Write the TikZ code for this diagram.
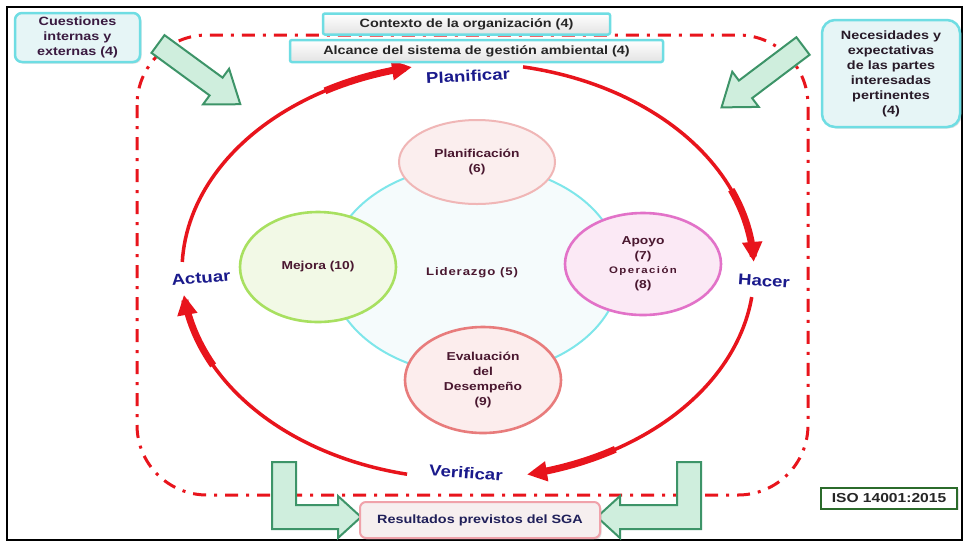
\documentclass[tikz,border=0pt]{standalone}
\usepackage{fontspec}
\setmainfont{Liberation Sans}[FakeStretch=1.2]
\usetikzlibrary{arrows.meta,shapes.geometric,shadows}

\definecolor{cycred}{HTML}{E8141C}
\definecolor{navylbl}{HTML}{1A1A8C}
\definecolor{maroontxt}{HTML}{4A1830}
\definecolor{cyanedge}{HTML}{6FDDE3}
\definecolor{cyanfill}{HTML}{E6F5F6}
\definecolor{greenedge}{HTML}{3D9468}
\definecolor{greenfill}{HTML}{CFEEDD}
\definecolor{ringcyan}{HTML}{7EE6EA}
\definecolor{ringfill}{HTML}{F5FBFC}
\definecolor{planedge}{HTML}{F0B6B6}
\definecolor{planfill}{HTML}{FBEEEE}
\definecolor{mejedge}{HTML}{A8E060}
\definecolor{mejfill}{HTML}{F2F9E6}
\definecolor{apoedge}{HTML}{E272C8}
\definecolor{apofill}{HTML}{FBE9F5}
\definecolor{evaedge}{HTML}{E87C7C}
\definecolor{evafill}{HTML}{FCEDED}
\definecolor{resedge}{HTML}{F0A2AA}
\definecolor{resfill}{HTML}{F6EFEF}
\definecolor{isoedge}{HTML}{2B6B2B}

\tikzset{
  thinarc/.style={draw=cycred, line width=3.5pt},
  thickarc/.style={draw=cycred, line width=7pt, -{Triangle[width=19pt,length=20pt]}},
  phase/.style={font=\bfseries\fontsize{15.5}{18}\selectfont, text=navylbl, inner sep=1pt},
  blockarrow/.style={draw=greenedge, line width=2pt, fill=greenfill, line join=miter},
  stage/.style={ellipse, line width=2.6pt, inner sep=0pt, align=center,
    font=\bfseries\fontsize{11.5}{15}\selectfont, text=maroontxt},
  topbox/.style={draw=cyanedge, line width=2.5pt, rounded corners=2pt,
    top color=white, bottom color=gray!22, inner sep=0pt,
    font=\bfseries\fontsize{12}{15}\selectfont, text=black!85},
  sidebox/.style={draw=cyanedge, line width=2.5pt, fill=cyanfill, inner sep=1pt,
    align=center, font=\bfseries\fontsize{12}{15}\selectfont,
    drop shadow={shadow xshift=1.5pt, shadow yshift=-1.5pt, opacity=0.25}},
}

\begin{document}
\begin{tikzpicture}[x=1pt,y=-1pt]
\useasboundingbox (0,0) rectangle (966,542);
\fill[white] (0,0) rectangle (966,542);

% outer frame
\draw[line width=2pt] (7,7) rectangle (962,540);

% scope of the management system (dash-dot boundary)
\draw[cycred, line width=3pt, rounded corners=70pt,
      dash pattern=on 13pt off 8pt on 3pt off 8pt] (137,35) rectangle (808,495);

% central ring: leadership
\node[ellipse, draw=ringcyan, line width=2pt, fill=ringfill,
      minimum width=290pt, minimum height=210pt] (ring) at (475,270) {};
\node[font=\bfseries\fontsize{11}{14}\selectfont\addfontfeatures{LetterSpace=8},
      text=maroontxt] (lider) at (472,273) {Liderazgo (5)};

% stages around the ring
\node[stage, draw=planedge, fill=planfill, line width=2pt,
      minimum width=156pt, minimum height=84pt] (plan) at (477,162)
      {Planificación\\(6)};
\node[stage, draw=mejedge, fill=mejfill,
      minimum width=156pt, minimum height=110pt] (mejora) at (318,267)
      {Mejora (10)};
\node[stage, draw=apoedge, fill=apofill,
      minimum width=156pt, minimum height=102pt] (apoyo) at (643,264)
      {Apoyo\\(7)\\[-1pt]{\fontsize{9.5}{14}\selectfont\addfontfeatures{LetterSpace=15}Operación}\\(8)};
\node[stage, draw=evaedge, fill=evafill,
      minimum width=156pt, minimum height=106pt] (evalua) at (483,380)
      {Evaluación\\del\\Desempeño\\(9)};

% PDCA cycle: ellipse centre (468,271), radii 286 x 208
\draw[thinarc]  plot[domain=182.5:245, samples=40, variable=\t] ({468+286*cos(\t)},{271+208*sin(\t)});
\draw[thickarc] plot[domain=240:258.7, samples=15, variable=\t] ({468+286*cos(\t)},{271+208*sin(\t)});
\draw[thinarc]  plot[domain=-78.9:-20, samples=40, variable=\t] ({468+286*cos(\t)},{271+208*sin(\t)});
\draw[thickarc] plot[domain=-23:-2.5, samples=15, variable=\t] ({468+286*cos(\t)},{271+208*sin(\t)});
\draw[thinarc]  plot[domain=7.2:62, samples=40, variable=\t] ({468+286*cos(\t)},{271+208*sin(\t)});
\draw[thickarc] plot[domain=59:78.1, samples=15, variable=\t] ({468+286*cos(\t)},{271+208*sin(\t)});
\draw[thinarc]  plot[domain=102.3:156, samples=40, variable=\t] ({468+286*cos(\t)},{271+208*sin(\t)});
\draw[thickarc] plot[domain=153:173.4, samples=15, variable=\t] ({468+286*cos(\t)},{271+208*sin(\t)});

\node[phase, rotate=3]  (planificar) at (468,76)  {Planificar};
\node[phase, rotate=-4] (hacer)      at (764,281) {Hacer};
\node[phase, rotate=-4] (verificar)  at (466,473) {Verificar};
\node[phase, rotate=5]  (actuar)     at (201,278) {Actuar};

% context boxes
\node[topbox, minimum width=287pt, minimum height=21pt] (contexto) at (466.5,24)
      {Contexto de la organización (4)};
\node[topbox, minimum width=373pt, minimum height=22pt] (alcance) at (476.5,51)
      {Alcance del sistema de gestión ambiental (4)};

\node[sidebox, rounded corners=7pt, minimum width=125pt, minimum height=49pt,
      text={rgb,255:red,58;green,26;blue,64}] (cuestiones) at (77.5,37.5)
      {Cuestiones\\internas y\\externas (4)};
\node[sidebox, rounded corners=13pt, minimum width=138pt, minimum height=107pt,
      text={rgb,255:red,40;green,26;blue,40}] (partes) at (891,73.5)
      {Necesidades y\\expectativas\\de las partes\\interesadas\\pertinentes\\(4)};

% inputs entering the system
\begin{scope}[shift={(158,44)}, rotate=-36.2]
  \draw[blockarrow] (0,-11) -- (72,-11) -- (72,-22) -- (102,0) -- (72,22) -- (72,11) -- (0,11) -- cycle;
\end{scope}
\begin{scope}[shift={(803,46)}, rotate=-143]
  \draw[blockarrow] (0,-11) -- (72,-11) -- (72,-22) -- (102,0) -- (72,22) -- (72,11) -- (0,11) -- cycle;
\end{scope}

% outputs towards the intended results
\draw[blockarrow] (272,462) -- (296,462) -- (296,505) -- (338,505) -- (338,496)
      -- (361,517) -- (338,538) -- (338,529) -- (272,529) -- cycle;
\draw[blockarrow] (701,462) -- (677,462) -- (677,505) -- (620,505) -- (620,496)
      -- (597,517) -- (620,538) -- (620,529) -- (701,529) -- cycle;

\node[draw=resedge, line width=2pt, fill=resfill, rounded corners=6pt,
      minimum width=240pt, minimum height=36pt, inner sep=0pt,
      font=\bfseries\fontsize{12}{15}\selectfont, text={rgb,255:red,32;green,32;blue,90},
      drop shadow={shadow xshift=1.5pt, shadow yshift=-1.5pt, opacity=0.25}]
      (resultados) at (480,520) {Resultados previstos del SGA};

\node[draw=isoedge, line width=2pt, fill=white, minimum width=136pt, minimum height=21pt,
      inner sep=0pt, font=\bfseries\fontsize{13}{15}\selectfont, text=black!85,
      drop shadow={shadow xshift=1.5pt, shadow yshift=-1.5pt, opacity=0.2}]
      (iso) at (889,498) {ISO 14001:2015};
\end{tikzpicture}
\end{document}
